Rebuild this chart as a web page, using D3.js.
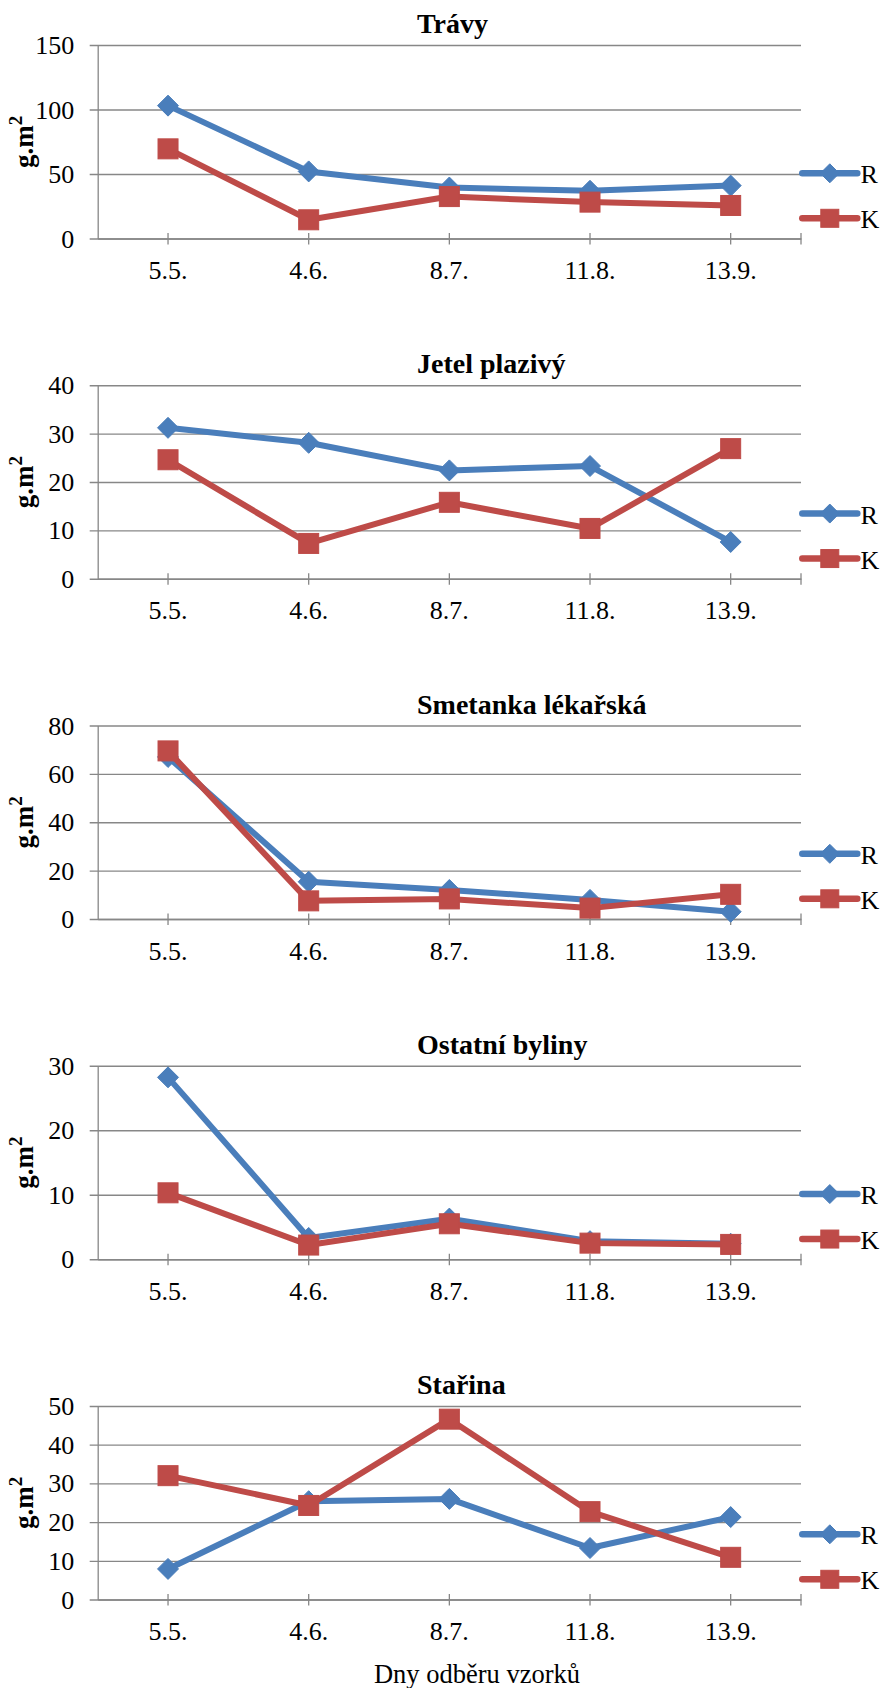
<!DOCTYPE html>
<html lang="cs">
<head>
<meta charset="utf-8">
<title>Biomasa podle dnů odběru</title>
<script src="https://cdn.jsdelivr.net/npm/d3@7"></script>
<style>
  html, body { margin: 0; padding: 0; background: #fff; }
  svg { display: block; }
  text { font-family: "Liberation Serif", "Times New Roman", serif; fill: #000; }
</style>
</head>
<body>
<svg id="chart" width="884" height="1688"></svg>
<script>
// Sampling dates (x categories)
const categories = ["5.5.", "4.6.", "8.7.", "11.8.", "13.9."];
const seriesNames = ["R", "K"];

// Panel titles and y-axis ranges
const panelTitles = ["Trávy", "Jetel plazivý", "Smetanka lékařská", "Ostatní byliny", "Stařina"];
const yMaxima = [150, 40, 80, 30, 50];
const yTickSteps = [50, 10, 20, 10, 10];

// Biomass values, g.m2
const travyR = [103, 52, 39.5, 37, 41];
const travyK = [69.5, 14.5, 32.5, 28.2, 25.6];
const jetelR = [31.2, 28.1, 22.4, 23.3, 7.6];
const jetelK = [24.6, 7.3, 15.8, 10.4, 26.9];
const smetankaR = [67, 15.4, 12, 7.9, 3.0];
const smetankaK = [69.5, 7.5, 8.3, 4.5, 10.2];
const ostatniR = [28.2, 3.3, 6.3, 2.8, 2.4];
const ostatniK = [10.3, 2.2, 5.5, 2.5, 2.3];
const starinaR = [7.9, 25.4, 26.0, 13.3, 21.3];
const starinaK = [32.0, 24.3, 46.6, 22.7, 10.9];

const xAxisTitle = "Dny odběru vzorků";

const panels = [
  { title: panelTitles[0], max: yMaxima[0], step: yTickSteps[0], R: travyR, K: travyK },
  { title: panelTitles[1], max: yMaxima[1], step: yTickSteps[1], R: jetelR, K: jetelK },
  { title: panelTitles[2], max: yMaxima[2], step: yTickSteps[2], R: smetankaR, K: smetankaK },
  { title: panelTitles[3], max: yMaxima[3], step: yTickSteps[3], R: ostatniR, K: ostatniK },
  { title: panelTitles[4], max: yMaxima[4], step: yTickSteps[4], R: starinaR, K: starinaK }
];

// Layout
const plotLeft = 97.7, plotRight = 801;
const firstTop = 45, panelPitch = 340.25, plotH = 193.5;
const gridColor = "#878787";
const colors = { R: "#4A7EBB", K: "#BE4B48" };
const serif = "font-family: 'Liberation Serif', 'Times New Roman', serif";

const svg = d3.select("#chart");
svg.append("rect").attr("width", 884).attr("height", 1688).attr("fill", "#fff");

const x = d3.scaleBand().domain(categories).range([plotLeft, plotRight]);
const cx = c => x(c) + x.bandwidth() / 2;

function drawMarker(g, name, px, py, big) {
  if (name === "R") {
    const h = big ? 10.5 : 9.5;
    g.append("path")
      .attr("d", `M${px},${py - h}L${px + h},${py}L${px},${py + h}L${px - h},${py}Z`)
      .attr("fill", colors.R).attr("stroke", colors.R).attr("stroke-width", 1);
  } else {
    const s = big ? 20 : 18;
    g.append("rect")
      .attr("x", px - s / 2).attr("y", py - s / 2)
      .attr("width", s).attr("height", s)
      .attr("fill", colors.K).attr("stroke", colors.K).attr("stroke-width", 1);
  }
}

panels.forEach((p, i) => {
  const top = firstTop + i * panelPitch;
  const bottom = top + plotH;
  const y = d3.scaleLinear().domain([0, p.max]).range([bottom, top]);
  const g = svg.append("g").attr("class", "panel");

  // Y axis with horizontal gridlines
  const yAxis = d3.axisLeft(y)
    .tickValues(d3.range(0, p.max + p.step / 2, p.step))
    .tickSize(-(plotRight - plotLeft))
    .tickSizeOuter(0)
    .tickPadding(23.5)
    .tickFormat(d3.format("d"));
  const ya = g.append("g").attr("transform", `translate(${plotLeft},0)`).call(yAxis);
  ya.attr("font-family", null);
  ya.select(".domain").attr("stroke", gridColor).attr("stroke-width", 1.3);
  ya.selectAll(".tick line").attr("x1", -8).attr("stroke", gridColor).attr("stroke-width", 1.3);
  ya.selectAll(".tick text")
    .attr("style", serif)
    .attr("font-size", 26)
    .attr("dy", "0.33em")
    .attr("fill", "#000");

  // X axis: cross ticks at categories and at the right end
  const xAxis = d3.axisBottom(x).tickSize(6).tickSizeOuter(0).tickPadding(0);
  const xa = g.append("g").attr("transform", `translate(0,${bottom})`).call(xAxis);
  xa.attr("font-family", null);
  xa.select(".domain").attr("stroke", gridColor).attr("stroke-width", 1.3);
  xa.selectAll(".tick line").attr("y1", -5.5).attr("y2", 6).attr("stroke", gridColor).attr("stroke-width", 1.3);
  xa.selectAll(".tick text")
    .attr("style", serif)
    .attr("y", 40.5).attr("dy", 0)
    .attr("font-size", 26)
    .attr("fill", "#000");
  xa.append("line")
    .attr("x1", x.range()[1]).attr("x2", x.range()[1])
    .attr("y1", -5.5).attr("y2", 6)
    .attr("stroke", gridColor).attr("stroke-width", 1.3);

  // Title
  g.append("text")
    .attr("style", serif)
    .attr("x", 417).attr("y", top - 12)
    .attr("font-size", 28).attr("font-weight", "bold")
    .text(p.title);

  // Y axis title g.m²
  const yt = g.append("text")
    .attr("style", serif)
    .attr("transform", `translate(33.3,${(top + bottom) / 2}) rotate(-90)`)
    .attr("text-anchor", "middle")
    .attr("font-size", 27).attr("font-weight", "bold");
  yt.append("tspan").text("g.m");
  yt.append("tspan").attr("font-size", 19).attr("dy", -11).text("2");

  // Series
  seriesNames.forEach(name => {
    const vals = p[name];
    const line = d3.line().x((d, j) => cx(categories[j])).y(d => y(d));
    g.append("path")
      .datum(vals)
      .attr("d", line)
      .attr("fill", "none")
      .attr("stroke", colors[name])
      .attr("stroke-width", 6)
      .attr("stroke-linejoin", "round")
      .attr("stroke-linecap", "round");
    vals.forEach((v, j) => drawMarker(g, name, cx(categories[j]), y(v), true));
  });

  // Legend
  const legendY = { R: top + 128.3, K: top + 173.3 };
  seriesNames.forEach(name => {
    const ly = legendY[name];
    g.append("line")
      .attr("x1", 802.3).attr("x2", 857.3).attr("y1", ly).attr("y2", ly)
      .attr("stroke", colors[name]).attr("stroke-width", 6.5).attr("stroke-linecap", "round");
    drawMarker(g, name, 829.8, ly, false);
    g.append("text")
      .attr("style", serif)
      .attr("x", 860.5).attr("y", ly + 10)
      .attr("font-size", 26)
      .text(name);
  });
});

// Shared x-axis title
svg.append("text")
  .attr("style", serif)
  .attr("x", 477).attr("y", 1683.3)
  .attr("text-anchor", "middle")
  .attr("font-size", 26.5)
  .text(xAxisTitle);
</script>
</body>
</html>
